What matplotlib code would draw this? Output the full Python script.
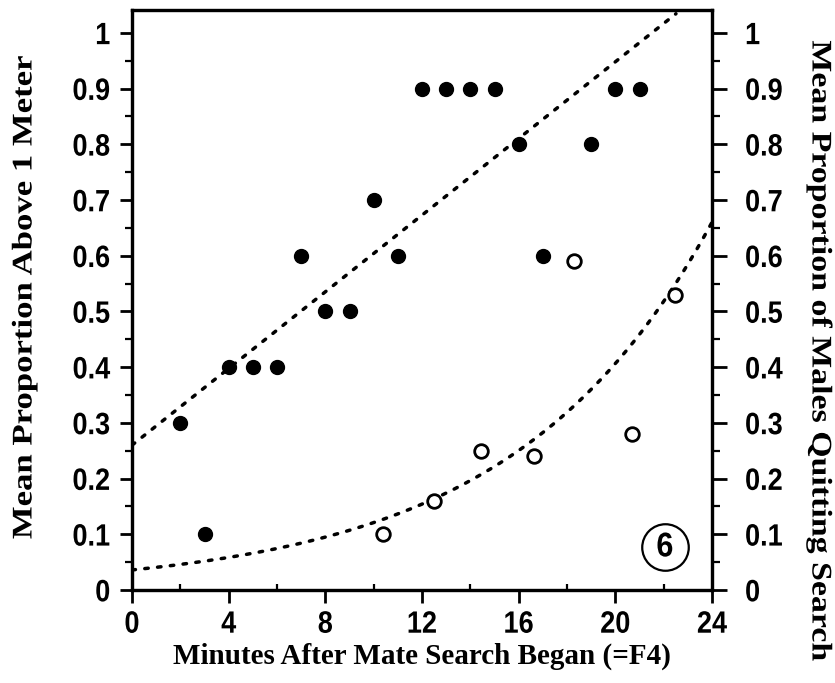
import numpy as np
import matplotlib
matplotlib.use("Agg")
import matplotlib.pyplot as plt
from matplotlib.ticker import MultipleLocator
from matplotlib.patheffects import AbstractPathEffect
from matplotlib.transforms import Affine2D

# Data
filled_x = [2, 3, 4, 5, 6, 7, 8, 9, 10, 11, 12, 13, 14, 15, 16, 17, 19, 20, 21]
filled_y = [0.3, 0.1, 0.4, 0.4, 0.4, 0.6, 0.5, 0.5, 0.7, 0.6, 0.9, 0.9, 0.9, 0.9, 0.8, 0.6, 0.8, 0.9, 0.9]
open_x = [10.4, 12.48, 14.46, 16.65, 18.28, 20.68, 22.47]
open_y = [0.10, 0.16, 0.25, 0.24, 0.59, 0.28, 0.53]

# Fitted trend lines (coefficients)
lin_intercept, lin_slope = 0.26, 0.0344
exp_a, exp_b = 0.036, 0.1212

xticks = [0, 4, 8, 12, 16, 20, 24]
yticks = [0, 0.1, 0.2, 0.3, 0.4, 0.5, 0.6, 0.7, 0.8, 0.9, 1.0]
ytick_labels = ["0", "0.1", "0.2", "0.3", "0.4", "0.5", "0.6", "0.7", "0.8", "0.9", "1"]

tick_font = ["Liberation Sans", "DejaVu Sans"]
label_font = ["Liberation Serif", "DejaVu Serif"]


class Stretch(AbstractPathEffect):
    """Stretch glyphs about their centre (text stays a Text artist)."""
    def __init__(self, sx=1.0, sy=1.0):
        super().__init__()
        self.sx, self.sy = sx, sy

    def draw_path(self, renderer, gc, tpath, affine, rgbFace=None):
        ext = tpath.get_extents()
        cx = 0.5 * (ext.x0 + ext.x1)
        cy = 0.5 * (ext.y0 + ext.y1)
        t = Affine2D().translate(-cx, -cy).scale(self.sx, self.sy).translate(cx, cy) + affine
        renderer.draw_path(gc, tpath, t, rgbFace)


fig = plt.figure(figsize=(8.35, 6.83), dpi=100)
ax = fig.add_axes([132 / 835, 93 / 683, 580 / 835, 580 / 683])

xx = np.linspace(0, 24, 500)
lin = lin_intercept + lin_slope * xx
mask = lin <= 1.035
ax.plot(xx[mask], lin[mask], color="black", lw=2.5, linestyle=(0, (1, 2.7)),
        dash_capstyle="round", zorder=2)
ax.plot(xx, exp_a * np.exp(exp_b * xx), color="black", lw=2.5, linestyle=(0, (1, 2.7)),
        dash_capstyle="round", zorder=2)

ax.plot(filled_x, filled_y, "o", color="black", ms=10, zorder=3)
ax.plot(open_x, open_y, "o", mfc="white", mec="black", ms=9.8, mew=2.0, zorder=3)

# Circled panel number
ax.plot([22.05], [0.077], "o", ms=33.5, mfc="white", mec="black", mew=1.6, zorder=4)
ax.text(22.05, 0.077, "6", ha="center", va="center", fontsize=22, fontweight="bold",
        family=tick_font, zorder=5, path_effects=[Stretch(1.0, 1.12)])

ax.set_xlim(0, 24)
ax.set_ylim(0, 1.041)
ax.set_xticks(xticks)
ax.set_xticklabels([str(t) for t in xticks])
ax.xaxis.set_minor_locator(MultipleLocator(2))
ax.set_yticks(yticks)
ax.set_yticklabels(ytick_labels)
ax.yaxis.set_minor_locator(MultipleLocator(0.05))

ax2 = ax.twinx()
ax2.set_ylim(0, 1.041)
ax2.set_yticks(yticks)
ax2.set_yticklabels(ytick_labels)
ax2.yaxis.set_minor_locator(MultipleLocator(0.05))

for a in (ax, ax2):
    for s in a.spines.values():
        s.set_linewidth(2.3)

ax.tick_params(axis="x", which="major", direction="out", length=9.4, width=2,
               labelsize=19.5, pad=6)
ax.tick_params(axis="x", which="minor", direction="in", length=4, width=1.6)
ax.tick_params(axis="y", which="major", direction="out", length=8.6, width=2,
               labelsize=19.5, pad=7)
ax.tick_params(axis="y", which="minor", direction="out", length=5, width=1.6)
ax2.tick_params(axis="y", which="major", direction="out", length=10.8, width=2,
                labelsize=19.5, pad=13)
ax2.tick_params(axis="y", which="minor", direction="out", length=5.5, width=1.6)

tick_pe = [Stretch(1.0, 1.14)]
for lab in ax.get_xticklabels() + ax.get_yticklabels() + ax2.get_yticklabels():
    lab.set_family(tick_font)
    lab.set_fontweight("bold")
    lab.set_path_effects(tick_pe)

ax.set_xlabel("Minutes After Mate Search Began (=F4)", fontsize=21, fontweight="bold",
              family=label_font, labelpad=4)

fig.text(25 / 835, 1 - 297 / 683, "Mean Proportion Above 1 Meter", rotation=90,
         ha="center", va="center", fontsize=20.5, fontweight="bold", family=label_font,
         path_effects=[Stretch(1.22, 1.0)])

fig.text(819 / 835, 1 - 351 / 683, "Mean Proportion of Males Quitting Search", rotation=-90,
         ha="center", va="center", fontsize=20.5, fontweight="bold", family=label_font,
         path_effects=[Stretch(1.19, 1.0)])

fig.savefig("out.png", dpi=100)
